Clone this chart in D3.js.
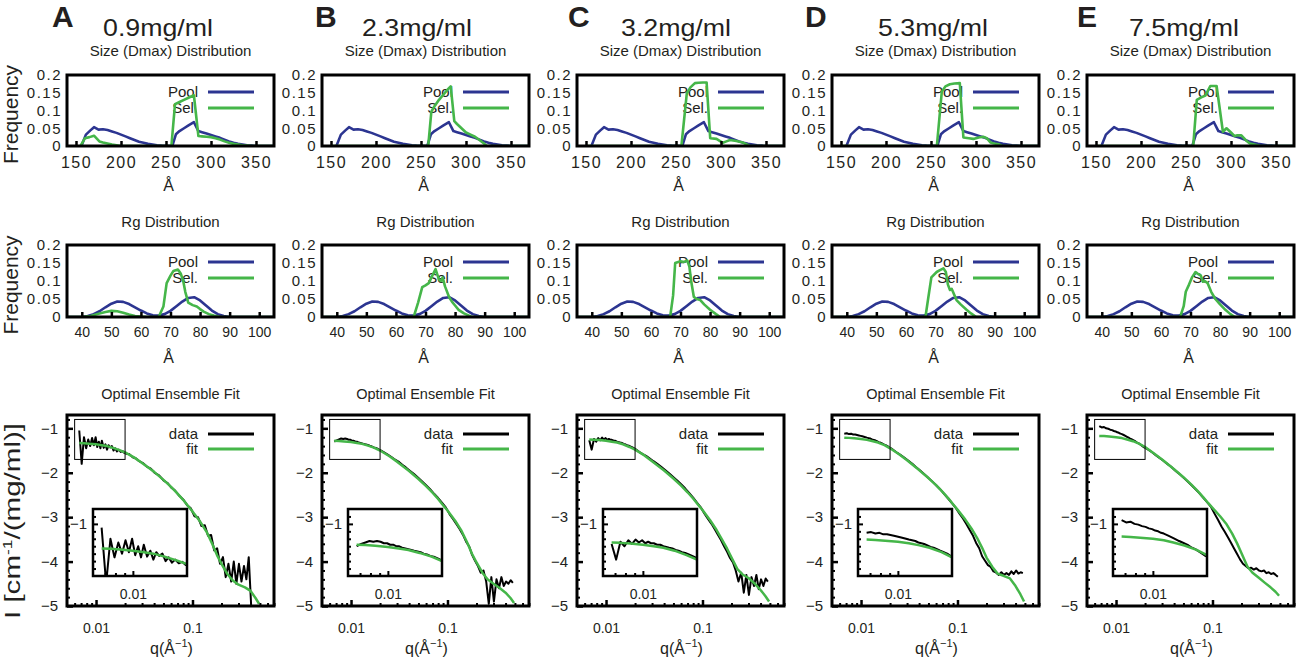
<!DOCTYPE html>
<html>
<head>
<meta charset="utf-8">
<script src="https://cdn.jsdelivr.net/npm/d3@7/dist/d3.min.js"></script>
<style>
html,body{margin:0;padding:0;background:#fff;}
text{font-family:"Liberation Sans",Arial,Helvetica,sans-serif;}
</style>
</head>
<body>
<svg id="chart" width="1299" height="660" xmlns="http://www.w3.org/2000/svg"></svg>
<script>
// ---------------- DATA ----------------
const panelLetters = ["A", "B", "C", "D", "E"];
const concentrations = ["0.9mg/ml", "2.3mg/ml", "3.2mg/ml", "5.3mg/ml", "7.5mg/ml"];

const dmaxTicks = [150, 200, 250, 300, 350];
const rgTicks = [40, 50, 60, 70, 80, 90, 100];
const freqTicks = [0, 0.05, 0.1, 0.15, 0.2];
const freqTickLabels = ["0", "0.05", "0.1", "0.15", "0.2"];
const fitYTicks = [-1, -2, -3, -4, -5];
const fitYTickLabels = ["\u22121", "\u22122", "\u22123", "\u22124", "\u22125"];
const fitXTicks = [0.01, 0.1];
const fitXTickLabels = ["0.01", "0.1"];
const fitXMinor = [0.006, 0.007, 0.008, 0.009, 0.02, 0.03, 0.04, 0.05, 0.06, 0.07, 0.08, 0.09, 0.2, 0.3, 0.4, 0.5, 0.6, 0.7];
const fitYMinor = [-4.8, -4.6, -4.4, -4.2, -3.8, -3.6, -3.4, -3.2, -2.8, -2.6, -2.4, -2.2, -1.8, -1.6, -1.4, -1.2, -0.8];
const insetXTicks = [0.01];
const insetXMinor = [0.007, 0.008, 0.009];
const insetYTicks = [-1];
const insetYMinor = [-1.6, -1.5, -1.4, -1.3, -1.2, -1.1, -0.9];

// Dmax distributions  [Dmax (Å), frequency]
const dmaxPool = [[156,0],[161,0.032],[166,0.044],[170,0.053],[175,0.046],[180,0.047],[185,0.045],[190,0.041],[195,0.037],[200,0.032],[205,0.027],[210,0.022],[215,0.017],[220,0.012],[225,0.009],[230,0.006],[235,0.004],[240,0.002],[245,0.001],[250,0.0005],[257,0],[261,0.033],[265,0.042],[270,0.050],[275,0.058],[281,0.067],[286,0.042],[290,0.039],[295,0.035],[300,0.031],[305,0.027],[310,0.023],[315,0.018],[320,0.013],[325,0.009],[330,0.006],[335,0.004],[340,0.002],[345,0.001],[350,0],[370,0]];
const dmaxSelA = [[155,0],[160,0.022],[165,0.025],[170,0.029],[176,0.013],[180,0.010],[185,0.007],[190,0.004],[195,0.002],[200,0],[256,0],[260,0.118],[265,0.124],[270,0.130],[275,0.136],[281,0.143],[286,0.028],[290,0.027],[295,0.026],[300,0.025],[305,0.022],[310,0.018],[315,0.013],[320,0.009],[325,0.006],[330,0.004],[335,0.002],[340,0.001],[345,0],[370,0]];
const dmaxSelB = [[150,0],[258,0],[261.5,0.097],[265,0.112],[270,0.130],[275,0.145],[280,0.160],[283,0.168],[287,0.070],[290,0.062],[295,0.050],[300,0.038],[305,0.032],[310,0.026],[315,0.017],[320,0.007],[323,0],[370,0]];
const dmaxSelC = [[150,0],[256,0],[262,0.148],[266,0.165],[271,0.177],[275,0.178],[280,0.179],[284,0.179],[288,0.022],[295,0.020],[302,0.009],[306,0.013],[310,0.017],[317,0.014],[324,0.010],[332,0],[370,0]];
const dmaxSelD = [[150,0],[256.5,0],[262,0.153],[266,0.168],[271,0.174],[276,0.176],[282,0.177],[286,0.024],[292,0.022],[297,0.020],[303,0.024],[308,0.026],[312,0.022],[316,0.010],[320,0.007],[325,0.005],[329,0],[370,0]];
const dmaxSelE = [[150,0],[258,0],[262,0.130],[267,0.137],[271.5,0.142],[277,0.169],[284,0.169],[291,0.040],[295,0.050],[300,0.038],[304,0.028],[307,0.030],[311.5,0.030],[317,0.015],[321,0.007],[326,0.004],[333,0],[370,0]];

// Rg distributions [Rg (Å), frequency]
const rgPool = [[35,0],[40,0],[42,0.003],[44,0.008],[46,0.016],[48,0.027],[50,0.037],[52,0.043],[54,0.042],[56,0.036],[58,0.027],[60,0.018],[62,0.010],[64,0.005],[66,0.004],[68,0.008],[70,0.017],[72,0.030],[74,0.043],[76,0.053],[78,0.055],[80,0.046],[82,0.032],[84,0.018],[86,0.008],[88,0.003],[90,0],[105,0]];
const rgSelA = [[35,0],[40,0],[43,0.003],[46,0.010],[48,0.014],[50,0.017],[52,0.016],[54,0.012],[56,0.007],[58,0.003],[60,0.001],[62,0],[66,0],[67.6,0.029],[68.7,0.094],[70,0.115],[71,0.128],[72.5,0.132],[73.5,0.120],[74.3,0.100],[75,0.070],[76,0.040],[77.5,0.033],[78.9,0.029],[80,0.022],[81.2,0.015],[83,0.008],[84.6,0.004],[86.8,0],[105,0]];
const rgSelB = [[35,0],[66,0],[67.5,0.040],[68.9,0.083],[70,0.088],[71.1,0.094],[72.3,0.115],[73.4,0.133],[74.5,0.105],[75.2,0.100],[75.8,0.110],[76.6,0.085],[78,0.055],[79,0.042],[80,0.032],[81.2,0.020],[83,0.010],[85.7,0],[105,0]];
const rgSelC = [[35,0],[66.5,0],[67.5,0.060],[68.2,0.150],[70,0.155],[71.2,0.153],[72.3,0.157],[73,0.140],[73.6,0.100],[74.5,0.056],[75.5,0.050],[76.7,0.047],[78,0.035],[80,0.020],[82,0.008],[83.4,0],[105,0]];
const rgSelD = [[35,0],[66.6,0],[67.5,0.050],[68.6,0.110],[70.4,0.125],[71.5,0.130],[72.7,0.135],[73.5,0.125],[74.2,0.090],[74.9,0.075],[75.5,0.078],[77.1,0.047],[78.5,0.035],[80.5,0.020],[82,0.010],[83.8,0],[105,0]];
const rgSelE = [[35,0],[66.5,0],[67.7,0.030],[68.4,0.070],[69.5,0.090],[70.5,0.110],[71.7,0.125],[72.5,0.120],[73.5,0.115],[74.2,0.098],[74.8,0.100],[75.8,0.094],[77,0.070],[78.4,0.050],[80,0.035],[81.8,0.020],[83.5,0.008],[85,0],[105,0]];

// SAXS curves: q (1/Å) and log10 I
const qData = [0.0067,0.0071,0.0075,0.0079,0.0083,0.0087,0.0091,0.0095,0.0099,0.0103,0.0107,0.0111,0.0115,0.0120,0.0125,0.0130,0.0135,0.0140,0.0146,0.0152,0.0158,0.0165,0.0172,0.0180,0.0188,0.0196,
  0.0205,0.022,0.024,0.026,0.028,0.031,0.034,0.037,0.041,0.045,0.050,0.055,0.060,0.066,0.073,0.080,0.088,0.096,
  0.105,0.114,0.124,0.134,0.145,0.156,0.168,0.180,0.193,0.207,0.221,0.236,0.252,0.268,0.285,0.303,0.322,0.342,0.362,0.383,0.405,0.428,0.452,0.476];
const dataA = [-1.05,-1.80,-1.20,-1.45,-1.25,-1.40,-1.22,-1.38,-1.20,-1.42,-1.30,-1.45,-1.28,-1.44,-1.36,-1.48,-1.38,-1.43,-1.40,-1.50,-1.45,-1.52,-1.48,-1.53,-1.51,-1.55,
  -1.57,-1.58,-1.65,-1.68,-1.74,-1.79,-1.87,-1.91,-2.01,-2.06,-2.17,-2.23,-2.33,-2.40,-2.52,-2.60,-2.73,-2.80,
  -2.98,-3.00,-3.20,-3.18,-3.42,-3.40,-3.75,-3.70,-4.05,-3.90,-4.35,-4.05,-4.45,-4.00,-4.50,-4.05,-4.45,-4.10,-4.40,-3.90,-4.95,null,null,null];
const dataB = [-1.30,-1.27,-1.25,-1.23,-1.24,-1.23,-1.24,-1.26,-1.26,-1.28,-1.28,-1.30,-1.30,-1.32,-1.33,-1.34,-1.35,-1.36,-1.37,-1.38,-1.40,-1.41,-1.43,-1.44,-1.46,-1.48,
  -1.50,-1.54,-1.59,-1.64,-1.69,-1.75,-1.82,-1.88,-1.96,-2.03,-2.12,-2.20,-2.28,-2.37,-2.48,-2.57,-2.68,-2.78,
  -2.93,-3.04,-3.16,-3.27,-3.40,-3.55,-3.66,-3.85,-3.98,-4.10,-4.25,-4.20,-4.45,-4.95,-4.35,-4.90,-4.40,-4.60,-4.35,-4.55,-4.45,-4.50,-4.42,-4.48];
const dataC = [-1.27,-1.48,-1.24,-1.30,-1.22,-1.27,-1.21,-1.25,-1.22,-1.26,-1.24,-1.26,-1.26,-1.28,-1.28,-1.30,-1.31,-1.32,-1.33,-1.35,-1.36,-1.38,-1.39,-1.41,-1.43,-1.45,
  -1.48,-1.53,-1.58,-1.62,-1.67,-1.74,-1.80,-1.86,-1.94,-2.01,-2.10,-2.18,-2.26,-2.35,-2.46,-2.56,-2.68,-2.78,
  -2.92,-3.04,-3.15,-3.27,-3.40,-3.52,-3.66,-3.78,-3.92,-4.02,-4.20,-4.45,-4.25,-4.70,-4.30,-4.75,-4.35,-4.55,-4.30,-4.62,-4.40,-4.55,-4.38,-4.45];
const dataD = [-1.12,-1.11,-1.13,-1.12,-1.14,-1.14,-1.15,-1.16,-1.17,-1.18,-1.19,-1.20,-1.21,-1.22,-1.23,-1.25,-1.26,-1.27,-1.29,-1.31,-1.32,-1.34,-1.36,-1.38,-1.40,-1.43,
  -1.45,-1.50,-1.56,-1.61,-1.66,-1.73,-1.80,-1.87,-1.95,-2.03,-2.12,-2.20,-2.28,-2.37,-2.48,-2.58,-2.69,-2.79,
  -2.92,-3.03,-3.16,-3.29,-3.42,-3.58,-3.70,-3.88,-3.98,-4.08,-4.12,-4.22,-4.25,-4.30,-4.24,-4.30,-4.26,-4.30,-4.22,-4.28,-4.20,-4.27,-4.24,-4.26];
const dataE = [-0.95,-0.98,-0.97,-1.00,-1.01,-1.03,-1.04,-1.06,-1.07,-1.09,-1.10,-1.12,-1.13,-1.15,-1.17,-1.19,-1.21,-1.23,-1.25,-1.27,-1.29,-1.32,-1.34,-1.37,-1.40,-1.43,
  -1.45,-1.49,-1.55,-1.61,-1.66,-1.73,-1.80,-1.86,-1.95,-2.02,-2.11,-2.19,-2.27,-2.36,-2.46,-2.56,-2.66,-2.76,
  -2.92,-3.06,-3.21,-3.33,-3.46,-3.58,-3.71,-3.83,-3.95,-4.05,-4.10,-4.15,-4.14,-4.18,-4.15,-4.20,-4.22,-4.20,-4.26,-4.24,-4.28,-4.26,-4.30,-4.34];

const qFit = [0.0067,0.0075,0.0085,0.01,0.0115,0.013,0.015,0.0175,0.02,0.025,0.03,0.04,0.05,0.06,0.07,0.08,0.09,0.1,0.12,0.14,0.16,0.18,0.2,0.23,0.26,0.3,0.35,0.4,0.45,0.49];
const fitA = [-1.33,-1.335,-1.345,-1.36,-1.38,-1.40,-1.44,-1.49,-1.54,-1.66,-1.78,-1.98,-2.16,-2.32,-2.47,-2.61,-2.75,-2.87,-3.10,-3.33,-3.60,-3.86,-4.05,-4.28,-4.42,-4.52,-4.58,-4.66,-4.82,-4.95];
const fitB = [-1.28,-1.285,-1.295,-1.31,-1.33,-1.35,-1.39,-1.44,-1.50,-1.63,-1.75,-1.96,-2.14,-2.30,-2.45,-2.59,-2.73,-2.85,-3.08,-3.31,-3.57,-3.83,-4.02,-4.25,-4.40,-4.50,-4.60,-4.70,-4.82,-4.93];
const fitC = [-1.25,-1.255,-1.265,-1.28,-1.30,-1.32,-1.36,-1.42,-1.48,-1.61,-1.74,-1.95,-2.13,-2.29,-2.44,-2.58,-2.72,-2.84,-3.07,-3.29,-3.51,-3.71,-3.91,-4.17,-4.29,-4.37,-4.50,-4.64,-4.78,-4.90];
const fitD = [-1.21,-1.215,-1.225,-1.24,-1.26,-1.285,-1.32,-1.38,-1.45,-1.59,-1.72,-1.94,-2.12,-2.28,-2.43,-2.57,-2.71,-2.83,-3.05,-3.26,-3.47,-3.69,-3.91,-4.12,-4.27,-4.32,-4.38,-4.55,-4.74,-4.90];
const fitE = [-1.17,-1.175,-1.185,-1.20,-1.22,-1.25,-1.29,-1.35,-1.42,-1.57,-1.70,-1.92,-2.10,-2.26,-2.41,-2.55,-2.68,-2.79,-2.98,-3.16,-3.37,-3.59,-3.81,-4.11,-4.25,-4.36,-4.48,-4.58,-4.68,-4.77];

const dmaxSel = [dmaxSelA, dmaxSelB, dmaxSelC, dmaxSelD, dmaxSelE];
const rgSel = [rgSelA, rgSelB, rgSelC, rgSelD, rgSelE];
const dataSeries = [dataA, dataB, dataC, dataD, dataE];
const fitSeries = [fitA, fitB, fitC, fitD, fitE];

// ---------------- LAYOUT / STYLE ----------------
const FONT = '"Liberation Sans", Arial, Helvetica, sans-serif';
const TXT = "#231f20";
const BLUE = "#2c3591";
const GREEN = "#45b649";
const svg = d3.select("#chart");
const frameLefts = [67, 322, 577, 832, 1087];
const W = 207;
const letterX = [52, 315, 568, 805, 1077];
const titleCx = [158, 417, 676, 933, 1184];
const ROW_TOP = {y0: 75, y1: 146};
const ROW_MID = {y0: 245, y1: 317};
const ROW_BOT = {y0: 415, y1: 606};

let clipN = 0;
function makeClip(x, y, w, h) {
  const id = "clip" + (clipN++);
  svg.append("clipPath").attr("id", id).append("rect")
    .attr("x", x).attr("y", y).attr("width", w).attr("height", h);
  return `url(#${id})`;
}

function styleAxis(g, size, spacing, sw) {
  g.attr("font-family", FONT).attr("font-size", size);
  g.select(".domain").remove();
  g.selectAll(".tick line").attr("stroke", "#000").attr("stroke-width", sw || 2);
  g.selectAll(".tick text").attr("fill", TXT).attr("letter-spacing", spacing || 0);
}

function legend(L, yTop, items, d1, d2) {
  items.forEach((it, k) => {
    const yy = yTop + (k === 0 ? d1 : d2);
    svg.append("text").attr("x", L + 131).attr("y", yy).attr("dy", "0.35em")
      .attr("text-anchor", "end").attr("font-size", 15).attr("fill", TXT).text(it.label);
    svg.append("line").attr("x1", L + 141).attr("x2", L + 187).attr("y1", yy).attr("y2", yy)
      .attr("stroke", it.color).attr("stroke-width", 3);
  });
}

function drawDist(i, row, xDomain, xTicks, pool, sel, title, titleY, xlabY, tickFont, tickSpacing) {
  const L = frameLefts[i], y0 = row.y0, y1 = row.y1;
  const x = d3.scaleLinear().domain(xDomain).range([L, L + W]);
  const y = d3.scaleLinear().domain([0, 0.2]).range([y1, y0]);
  const clip = makeClip(L, y0, W, y1 - y0);

  svg.append("text").attr("x", L + W / 2).attr("y", titleY).attr("text-anchor", "middle")
    .attr("font-size", 15).attr("fill", TXT).text(title);

  legend(L, y0, [{label: "Pool", color: BLUE}, {label: "Sel.", color: GREEN}], 17, 33);

  const line = d3.line().x(d => x(d[0])).y(d => y(d[1]));
  svg.append("path").datum(pool).attr("d", line).attr("fill", "none").attr("stroke", BLUE)
    .attr("stroke-width", 2.6).attr("stroke-linejoin", "round").attr("clip-path", clip);
  svg.append("path").datum(sel).attr("d", line).attr("fill", "none").attr("stroke", GREEN)
    .attr("stroke-width", 2.6).attr("stroke-linejoin", "round").attr("clip-path", clip);

  svg.append("rect").attr("x", L).attr("y", y0).attr("width", W).attr("height", y1 - y0)
    .attr("fill", "none").attr("stroke", "#000").attr("stroke-width", 3);

  const gx = svg.append("g").attr("transform", `translate(0,${y1})`)
    .call(d3.axisBottom(x).tickValues(xTicks).tickSize(-5).tickPadding(tickFont > 15 ? 11 : 10).tickFormat(d3.format("d")));
  styleAxis(gx, tickFont, tickSpacing, 2.5);

  const gy = svg.append("g").attr("transform", `translate(${L},0)`)
    .call(d3.axisLeft(y).tickValues(freqTicks).tickSize(0).tickPadding(5)
      .tickFormat((d, k) => freqTickLabels[k]));
  styleAxis(gy, 15, 1.5);

  svg.append("text").attr("x", L + W / 2 - 2).attr("y", xlabY).attr("text-anchor", "middle")
    .attr("font-size", 16).attr("fill", TXT).text("Å");

  if (i === 0) {
    svg.append("text").attr("transform", `translate(18,${(y0 + y1) / 2 + 4}) rotate(-90)`)
      .attr("text-anchor", "middle").attr("font-size", 21).attr("fill", TXT).text("Frequency");
  }
}

function drawFit(i) {
  const L = frameLefts[i], y0 = ROW_BOT.y0, y1 = ROW_BOT.y1;
  const x = d3.scaleLog().domain([0.005, 0.7]).range([L, L + W]);
  const y = d3.scaleLinear().domain([-5, -0.7]).range([y1, y0]);
  const clip = makeClip(L, y0, W, y1 - y0);

  svg.append("text").attr("x", L + W / 2).attr("y", 399).attr("text-anchor", "middle")
    .attr("font-size", 14.5).attr("fill", TXT).text("Optimal Ensemble Fit");

  legend(L, y0, [{label: "data", color: "#000"}, {label: "fit", color: GREEN}], 19, 34);

  const dataPts = qData.map((q, j) => [q, dataSeries[i][j]]);
  const fitPts = qFit.map((q, j) => [q, fitSeries[i][j]]);
  const line = d3.line().defined(d => d[1] != null).x(d => x(d[0])).y(d => y(d[1]));

  svg.append("path").datum(dataPts).attr("d", line).attr("fill", "none").attr("stroke", "#000")
    .attr("stroke-width", 2).attr("stroke-linejoin", "round").attr("clip-path", clip);
  svg.append("path").datum(fitPts).attr("d", line).attr("fill", "none").attr("stroke", GREEN)
    .attr("stroke-width", 2.5).attr("stroke-linejoin", "round").attr("clip-path", clip);

  // zoom region box
  svg.append("rect").attr("x", x(0.006)).attr("y", y(-0.8))
    .attr("width", x(0.02) - x(0.006)).attr("height", y(-1.7) - y(-0.8))
    .attr("fill", "none").attr("stroke", "#000").attr("stroke-width", 1);

  // inset
  const ix0 = L + 26, ix1 = L + 120, iy0 = 509, iy1 = 576;
  const ix = d3.scaleLog().domain([0.006, 0.02]).range([ix0, ix1]);
  const iy = d3.scaleLinear().domain([-1.7, -0.8]).range([iy1, iy0]);
  const iclip = makeClip(ix0, iy0, ix1 - ix0, iy1 - iy0);
  svg.append("rect").attr("x", ix0).attr("y", iy0).attr("width", ix1 - ix0).attr("height", iy1 - iy0)
    .attr("fill", "#fff");
  const iline = d3.line().defined(d => d[1] != null).x(d => ix(d[0])).y(d => iy(d[1]));
  svg.append("path").datum(dataPts).attr("d", iline).attr("fill", "none").attr("stroke", "#000")
    .attr("stroke-width", 2).attr("stroke-linejoin", "round").attr("clip-path", iclip);
  svg.append("path").datum(fitPts).attr("d", iline).attr("fill", "none").attr("stroke", GREEN)
    .attr("stroke-width", 2.5).attr("stroke-linejoin", "round").attr("clip-path", iclip);
  svg.append("rect").attr("x", ix0).attr("y", iy0).attr("width", ix1 - ix0).attr("height", iy1 - iy0)
    .attr("fill", "none").attr("stroke", "#000").attr("stroke-width", 2.5);

  const igx = svg.append("g").attr("transform", `translate(0,${iy1})`)
    .call(d3.axisBottom(ix).tickValues(insetXTicks).tickSize(-5).tickPadding(13).tickFormat(() => "0.01"));
  styleAxis(igx, 14, 0, 2);
  const igxm = svg.append("g").attr("transform", `translate(0,${iy1})`)
    .call(d3.axisBottom(ix).tickValues(insetXMinor).tickSize(-3).tickFormat(""));
  styleAxis(igxm, 14, 0, 2);
  const igy = svg.append("g").attr("transform", `translate(${ix0},0)`)
    .call(d3.axisLeft(iy).tickValues(insetYTicks).tickSize(-5).tickPadding(6).tickFormat(() => "\u22121"));
  styleAxis(igy, 15, 0, 2);
  const igym = svg.append("g").attr("transform", `translate(${ix0},0)`)
    .call(d3.axisLeft(iy).tickValues(insetYMinor).tickSize(-3).tickFormat(""));
  styleAxis(igym, 14, 0, 2);

  // main frame
  svg.append("rect").attr("x", L).attr("y", y0).attr("width", W).attr("height", y1 - y0)
    .attr("fill", "none").attr("stroke", "#000").attr("stroke-width", 3);

  const gx = svg.append("g").attr("transform", `translate(0,${y1})`)
    .call(d3.axisBottom(x).tickValues(fitXTicks).tickSize(-6).tickPadding(17)
      .tickFormat((d, k) => fitXTickLabels[k]));
  styleAxis(gx, 14, 0, 2.5);
  const gxm = svg.append("g").attr("transform", `translate(0,${y1})`)
    .call(d3.axisBottom(x).tickValues(fitXMinor).tickSize(-3).tickFormat(""));
  styleAxis(gxm, 14, 0, 2);
  const gy = svg.append("g").attr("transform", `translate(${L},0)`)
    .call(d3.axisLeft(y).tickValues(fitYTicks).tickSize(-6).tickPadding(9)
      .tickFormat((d, k) => fitYTickLabels[k]));
  styleAxis(gy, 15, 0, 2.5);
  const gym = svg.append("g").attr("transform", `translate(${L},0)`)
    .call(d3.axisLeft(y).tickValues(fitYMinor).tickSize(-3).tickFormat(""));
  styleAxis(gym, 14, 0, 2);

  const xl = svg.append("text").attr("x", L + W / 2 + 1).attr("y", 654).attr("text-anchor", "middle")
    .attr("font-size", 16).attr("fill", TXT);
  xl.append("tspan").text("q(Å");
  xl.append("tspan").attr("dy", -7).attr("font-size", 11).text("\u22121");
  xl.append("tspan").attr("dy", 7).text(")");

  if (i === 0) {
    const yl = svg.append("text").attr("transform", `translate(20,521) rotate(-90)`)
      .attr("text-anchor", "middle").attr("font-size", 22).attr("fill", TXT)
      .attr("textLength", 196).attr("lengthAdjust", "spacingAndGlyphs");
    yl.append("tspan").text("I [cm");
    yl.append("tspan").attr("dy", -8).attr("font-size", 13).text("-1");
    yl.append("tspan").attr("dy", 8).text("/(mg/ml)]");
  }
}

// ---------------- DRAW ----------------
panelLetters.forEach((letter, i) => {
  svg.append("text").attr("x", letterX[i]).attr("y", 27).attr("font-size", 30)
    .attr("font-weight", "bold").attr("fill", TXT).text(letter);
  svg.append("text").attr("x", titleCx[i]).attr("y", 36).attr("text-anchor", "middle")
    .attr("font-size", 24).attr("fill", TXT)
    .attr("textLength", 110).attr("lengthAdjust", "spacingAndGlyphs").text(concentrations[i]);

  drawDist(i, ROW_TOP, [140, 370], dmaxTicks, dmaxPool, dmaxSel[i],
    "Size (Dmax) Distribution", 56, 191, 16, 1.5);
  drawDist(i, ROW_MID, [35, 105], rgTicks, rgPool, rgSel[i],
    "Rg Distribution", 227, 363, 14, 0);
  drawFit(i);
});
</script>
</body>
</html>
